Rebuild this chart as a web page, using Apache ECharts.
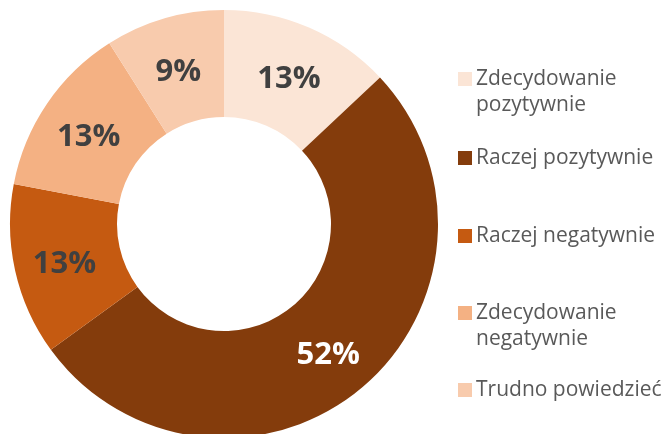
<!DOCTYPE html>
<html>
<head>
<meta charset="utf-8">
<script src="https://cdn.jsdelivr.net/npm/echarts@6/dist/echarts.min.js"></script>
<style>
html,body{margin:0;padding:0;background:#fff;}
#main{width:665px;height:434px;}
</style>
</head>
<body>
<div id="main"></div>
<script>
// kategorie i wartości (%)
var categories = ['Zdecydowanie pozytywnie', 'Raczej pozytywnie', 'Raczej negatywnie', 'Zdecydowanie negatywnie', 'Trudno powiedzieć'];
var values = [13, 52, 13, 13, 9];
var colors = ['#FBE5D6', '#843C0C', '#C55A11', '#F4B183', '#F8CBAD'];
var legendTops = [66, 145, 223, 300, 377];

var tallIcon = 'path://M0,0h14v14h-14zM0,39.99h14v0.01h-14z';

var myChart = echarts.init(document.getElementById('main'));

var pieData = [];
for (var i = 0; i < categories.length; i++) {
    pieData.push({
        name: categories[i],
        value: values[i],
        label: { color: i == 1 ? '#ffffff' : '#404040' }
    });
}

var legends = [];
for (var j = 0; j < categories.length; j++) {
    var twoLines = categories[j].indexOf('Zdecydowanie') == 0;
    legends.push({
        data: [{ name: categories[j], icon: twoLines ? tallIcon : 'rect' }],
        left: 458,
        top: legendTops[j],
        orient: 'vertical',
        selectedMode: false,
        itemWidth: 14,
        itemHeight: twoLines ? 40 : 14,
        itemGap: 0,
        padding: 0,
        formatter: function (name) {
            return name.replace('Zdecydowanie ', 'Zdecydowanie\n');
        },
        textStyle: {
            fontFamily: 'Open Sans',
            fontSize: 21,
            lineHeight: 26,
            color: '#595959',
            padding: [0, 0, 0, -1]
        }
    });
}

var option = {
    animation: false,
    color: colors,
    legend: legends,
    series: [
        {
            name: '',
            type: 'pie',
            center: [224, 224],
            radius: [107, 214],
            startAngle: 90,
            clockwise: true,
            avoidLabelOverlap: false,
            itemStyle: { borderWidth: 0 },
            label: {
                show: true,
                position: 'inside',
                formatter: '{c}%',
                fontFamily: 'Open Sans',
                fontWeight: 'bold',
                fontSize: 31
            },
            labelLayout: { dy: 5 },
            labelLine: { show: false },
            emphasis: { disabled: true },
            data: pieData
        }
    ]
};

myChart.setOption(option);
</script>
</body>
</html>
